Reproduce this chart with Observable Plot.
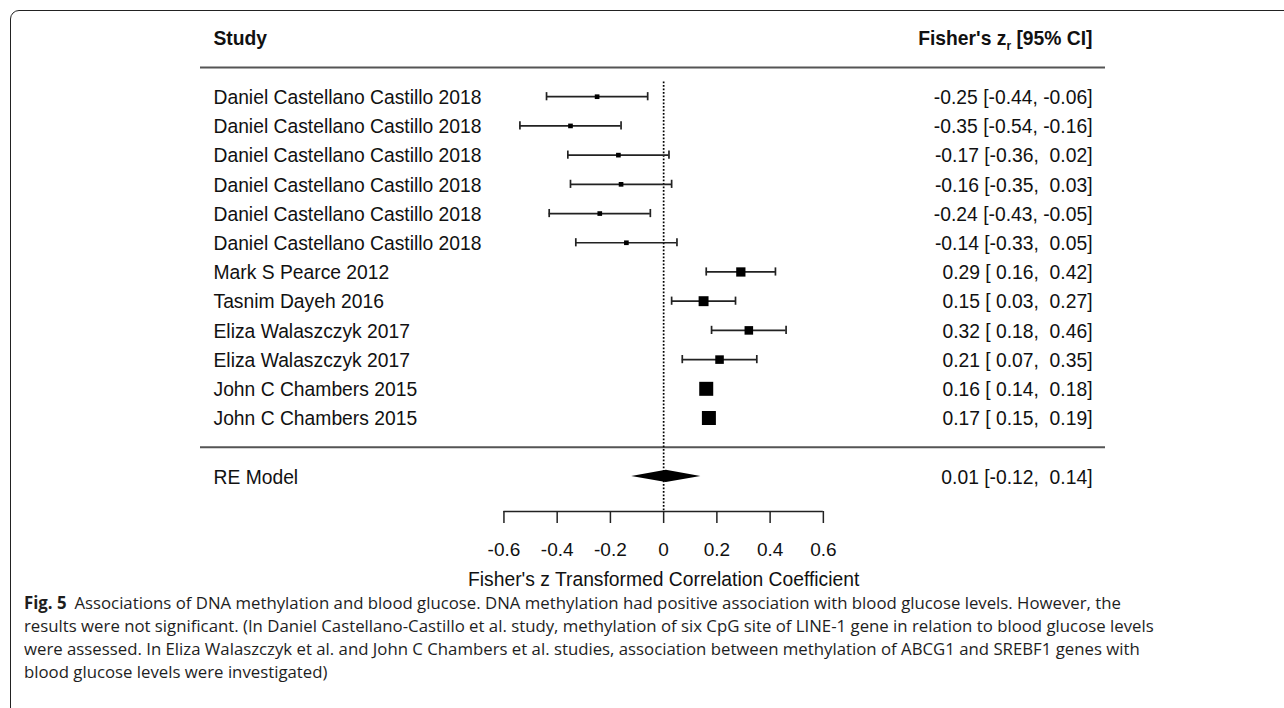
<!DOCTYPE html>
<html><head><meta charset="utf-8">
<script src="https://cdn.jsdelivr.net/npm/d3@7"></script>
<script src="https://cdn.jsdelivr.net/npm/@observablehq/plot@0.6"></script>
<style>
html,body{margin:0;padding:0;background:#fff;width:1284px;height:708px;overflow:hidden;}
#frame{position:absolute;left:10px;top:10px;width:1400px;height:800px;border:1.4px solid #222;border-radius:9px;box-sizing:border-box;}
#chart{position:absolute;left:0;top:0;}
#chart svg{overflow:visible;}
#chart svg text{white-space:pre;}
#caption{position:absolute;left:24px;top:590.5px;font-family:"Open Sans",sans-serif;font-size:17px;line-height:23.3px;color:#1e1e1e;white-space:nowrap;transform-origin:0 0;}
#caption b{font-weight:700;margin-right:8px;}
</style></head><body>
<div id="frame"></div>
<div id="chart"></div>
<div id="caption">
<div><span><b>Fig. 5</b>Associations of DNA methylation and blood glucose. DNA methylation had positive association with blood glucose levels. However, the</span></div>
<div><span>results were not significant. (In Daniel Castellano-Castillo et al. study, methylation of six CpG site of LINE-1 gene in relation to blood glucose levels</span></div>
<div><span>were assessed. In Eliza Walaszczyk et al. and John C Chambers et al. studies, association between methylation of ABCG1 and SREBF1 genes with</span></div>
<div><span>blood glucose levels were investigated)</span></div>
</div>
<script>
// ---------- data ----------
const studies = [
  "Daniel Castellano Castillo 2018",
  "Daniel Castellano Castillo 2018",
  "Daniel Castellano Castillo 2018",
  "Daniel Castellano Castillo 2018",
  "Daniel Castellano Castillo 2018",
  "Daniel Castellano Castillo 2018",
  "Mark S Pearce 2012",
  "Tasnim Dayeh 2016",
  "Eliza Walaszczyk 2017",
  "Eliza Walaszczyk 2017",
  "John C Chambers 2015",
  "John C Chambers 2015"
];
const estimates = [-0.25, -0.35, -0.17, -0.16, -0.24, -0.14, 0.29, 0.15, 0.32, 0.21, 0.16, 0.17];
const lower     = [-0.44, -0.54, -0.36, -0.35, -0.43, -0.33, 0.16, 0.03, 0.18, 0.07, 0.14, 0.15];
const upper     = [-0.06, -0.16,  0.02,  0.03, -0.05,  0.05, 0.42, 0.27, 0.46, 0.35, 0.18, 0.19];
const summaryLabel = "RE Model";
const summaryEstimate = 0.01;
const summaryLower = -0.12;
const summaryUpper = 0.14;
const xTicks = [-0.6, -0.4, -0.2, 0, 0.2, 0.4, 0.6];
const xLabel = "Fisher's z Transformed Correlation Coefficient";
const headerLeft = "Study";
const headerRight = "Fisher's zr [95% CI]";

// ---------- layout ----------
const xlim = [-1.74, 1.66];
const sepRow = studies.length;          // separator line row
const summaryRow = studies.length + 1;  // RE model row
const axisRow = 14.2;
const fs = 19.3;
const ink = "#111";

const fmt = v => v.toFixed(2);
const pad = v => (v < 0 ? "" : " ") + fmt(v);
const ciText = (e, l, u) => `${fmt(e)} [${pad(l)}, ${pad(u)}]`;

// square sizes from random-effects weights (tau^2 solved from the summary CI)
const zc = 1.959964;
const vi = lower.map((l, i) => ((upper[i] - l) / (2 * zc)) ** 2);
const Wre = 1 / ((summaryUpper - summaryLower) / (2 * zc)) ** 2;
let tlo = 0, thi = 1;
for (let k = 0; k < 80; k++) {
  const mid = (tlo + thi) / 2;
  if (d3.sum(vi, v => 1 / (v + mid)) > Wre) tlo = mid; else thi = mid;
}
const tau2 = (tlo + thi) / 2;
const wRE = vi.map(v => 1 / (v + tau2));
const wmin = d3.min(wRE), wmax = d3.max(wRE);
const psize = wRE.map(w => (w - wmin) / (wmax - wmin) + 0.5);
const maxSide = 14;

const rows = studies.map((s, i) => ({
  row: i, study: s, est: estimates[i], lo: lower[i], hi: upper[i],
  label: ciText(estimates[i], lower[i], upper[i]),
  r: maxSide * psize[i] / 1.5 / Math.sqrt(Math.PI)
}));
const summary = [{row: summaryRow, study: summaryLabel, label: ciText(summaryEstimate, summaryLower, summaryUpper)}];
const diamondH = 0.21;
const diamond = [
  {x: summaryLower, y1: summaryRow, y2: summaryRow},
  {x: summaryEstimate, y1: summaryRow - diamondH, y2: summaryRow + diamondH},
  {x: summaryUpper, y1: summaryRow, y2: summaryRow}
];
const capH = 0.14;
const barStroke = "#222", barW = 1.7;

const chart = Plot.plot({
  width: 1284,
  height: 600,
  marginLeft: 200,
  marginRight: 179,
  marginTop: 67,
  marginBottom: 89,
  style: {fontFamily: "'Liberation Sans', Arial, sans-serif", fontSize: fs + "px", color: ink, background: "transparent", overflow: "visible"},
  x: {domain: xlim, label: null},
  y: {domain: [-1, axisRow], reverse: true, axis: null},
  r: {type: "identity"},
  marks: [
    Plot.ruleY([-1, sepRow], {stroke: "#555", strokeWidth: 2.2}),
    Plot.ruleX([0], {y1: -0.5, y2: axisRow, stroke: "#000", strokeWidth: 1.7, strokeDasharray: "1.7,1.8"}),
    Plot.ruleY(rows, {y: "row", x1: "lo", x2: "hi", stroke: barStroke, strokeWidth: barW}),
    Plot.ruleX(rows, {x: "lo", y1: d => d.row - capH, y2: d => d.row + capH, stroke: barStroke, strokeWidth: barW}),
    Plot.ruleX(rows, {x: "hi", y1: d => d.row - capH, y2: d => d.row + capH, stroke: barStroke, strokeWidth: barW}),
    Plot.dot(rows, {x: "est", y: "row", r: "r", symbol: "square", fill: "#000", stroke: null}),
    Plot.areaY(diamond, {x: "x", y1: "y1", y2: "y2", fill: "#000"}),
    Plot.text([...rows, ...summary], {y: "row", text: "study", frameAnchor: "left", textAnchor: "start", lineAnchor: "middle", dx: 13, dy: 1, fontSize: fs, fill: ink}),
    Plot.text([...rows, ...summary], {y: "row", text: "label", frameAnchor: "right", textAnchor: "end", lineAnchor: "middle", dx: -13, dy: 1, fontSize: fs, fill: ink}),
    Plot.text([headerLeft], {frameAnchor: "top-left", textAnchor: "start", lineAnchor: "middle", dx: 13, dy: -29, fontWeight: "bold", fontSize: fs, fill: ink}),
    Plot.text([headerRight], {frameAnchor: "top-right", textAnchor: "end", lineAnchor: "middle", dx: -13, dy: -29, fontWeight: "bold", fontSize: fs, fill: ink}),
    Plot.ruleY([axisRow], {x1: () => d3.min(xTicks), x2: () => d3.max(xTicks), stroke: "#222", strokeWidth: 1.5}),
    Plot.axisX(xTicks, {anchor: "bottom", tickSize: 12, tickPadding: 19, fontSize: 19, tickFormat: d => String(d), label: null, stroke: "#222", strokeWidth: 1.5}),
    Plot.text([xLabel], {x: () => d3.mean(xTicks), frameAnchor: "bottom", lineAnchor: "middle", dy: 68, fontSize: fs, fill: ink})
  ]
});
document.getElementById("chart").appendChild(chart);

// subscript r in the right-hand header
chart.querySelectorAll("text").forEach(t => {
  if (t.textContent === headerRight) {
    t.textContent = "";
    const ns = "http://www.w3.org/2000/svg";
    const a = document.createElementNS(ns, "tspan"); a.textContent = "Fisher's z";
    const b = document.createElementNS(ns, "tspan"); b.textContent = "r"; b.setAttribute("font-size", "12"); b.setAttribute("dy", "5");
    const c = document.createElementNS(ns, "tspan"); c.textContent = " [95% CI]"; c.setAttribute("dy", "-5");
    t.append(a, b, c);
  }
});

// caption horizontal fit (condensed caption face)
function fitCaption() {
  const cap = document.getElementById("caption");
  cap.style.transform = "none";
  const w = cap.querySelector("span").getBoundingClientRect().width;
  cap.style.transform = `scaleX(${1097 / w})`;
}
fitCaption();
if (document.fonts && document.fonts.ready) document.fonts.ready.then(fitCaption);
</script>
</body></html>
